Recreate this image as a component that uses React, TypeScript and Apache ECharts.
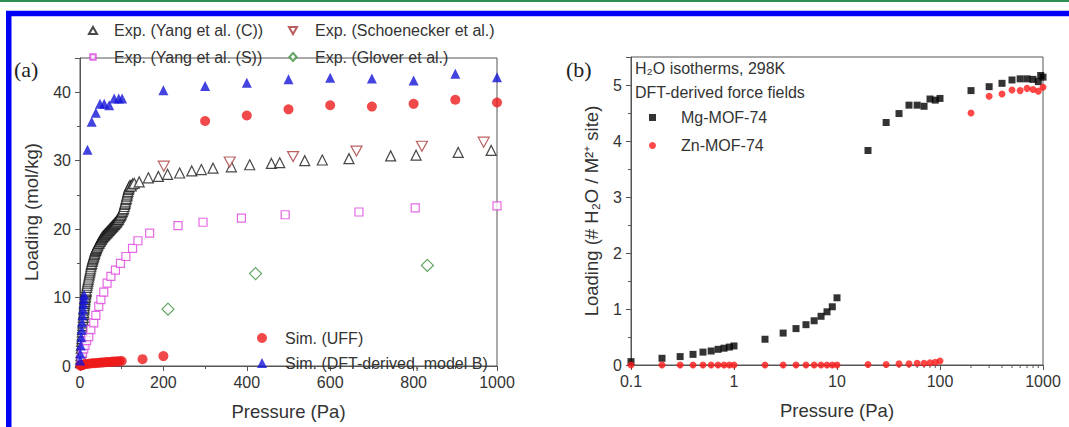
import React, { useEffect, useRef } from "react";
import * as echarts from "echarts";

// ---------- Panel (a) data: [pressure Pa, loading mol/kg] ----------
const yangC: number[][] = [
  [1, 0.5], [1.5, 1.0], [2, 1.5], [2.5, 2.0], [3, 2.6], [3.5, 3.1], [4, 3.6], [4.5, 4.0], [5, 4.5], [5.5, 5.0],
  [6, 5.4], [6.5, 5.9], [7, 6.3], [7.5, 6.7], [8, 7.1], [8.5, 7.5], [9, 7.8], [9.5, 8.2], [10, 8.5], [10.5, 8.8],
  [11, 9.1], [11.5, 9.4], [12, 9.7], [12.5, 10.0], [13, 10.2], [13.5, 10.5], [14, 10.7], [14.5, 10.9], [15, 11.1],
  [16, 11.5], [17, 11.8], [18, 12.1], [19, 12.4], [20, 12.7], [21, 13.0], [22, 13.3], [23, 13.6], [24, 13.9],
  [25, 14.2], [26, 14.5], [27, 14.8], [28, 15.0], [29, 15.3], [30, 15.5], [31, 15.7], [32, 15.9], [33, 16.1],
  [34, 16.3], [35, 16.5], [36, 16.7], [37, 16.9], [38, 17.0], [39, 17.2], [40, 17.3], [41.5, 17.5], [43, 17.7],
  [44.5, 17.9], [46, 18.0], [47.5, 18.2], [49, 18.3], [50.5, 18.5], [52, 18.6], [53.5, 18.8], [55, 18.9],
  [56.5, 19.0], [58, 19.1], [59.5, 19.2], [61, 19.3], [62.5, 19.4], [64, 19.5], [65.5, 19.6], [67, 19.7],
  [68.5, 19.8], [70, 19.9], [71.5, 20.0], [73, 20.1], [74.5, 20.2], [76, 20.3], [77.5, 20.4], [79, 20.5],
  [80.5, 20.6], [82, 20.7], [83.5, 20.8], [85, 20.9], [86.5, 21.0], [88, 21.1], [89.5, 21.3], [91, 21.4],
  [92.5, 21.5], [94, 21.7], [95.5, 21.9], [97, 22.0], [98.5, 22.2], [100, 22.4], [101.5, 22.6], [103, 22.8],
  [104.5, 23.0], [106, 23.3], [107, 23.6], [108, 23.8], [109, 24.0], [110, 24.3], [111, 24.5], [112, 24.8],
  [113, 25.0], [114, 25.3], [115, 25.5], [116, 25.8], [117, 26.0], [118, 26.2], [120, 26.4], [123, 26.3],
  [126, 26.6], [130, 26.7], [142, 26.9], [164, 27.5], [188, 27.7], [210, 28.0],
  [239, 28.2], [268, 28.5], [291, 28.7], [319, 28.9], [363, 29.1], [407, 29.4], [459, 29.6], [479, 29.7],
  [539, 30.0], [581, 30.1], [645, 30.3], [745, 30.7], [806, 30.8], [907, 31.2], [986, 31.5],
];
const yangS: number[][] = [
  [3, 1.0], [6, 1.9], [9, 2.5], [12, 3.0], [16, 3.7], [21, 4.3], [26, 5.3], [33, 6.3], [38, 7.4], [45, 8.7],
  [50, 9.7], [57, 10.8], [65, 12.1], [74, 13.1], [85, 14.0], [97, 15.0], [110, 16.0], [126, 17.2],
  [139, 18.3], [167, 19.4], [235, 20.5], [295, 21.0], [387, 21.6], [492, 22.1], [669, 22.5], [804, 23.1],
  [1000, 23.4],
];
const schoenecker: number[][] = [
  [201, 29.2], [359, 29.8], [511, 30.6], [663, 31.4], [820, 32.1], [968, 32.7],
];
const glover: number[][] = [
  [211, 8.3], [421, 13.5], [833, 14.7],
];
const simUFF: number[][] = [
  [1, 0.05], [3, 0.1], [5, 0.15], [8, 0.2], [10, 0.25], [15, 0.3], [20, 0.33], [25, 0.36], [30, 0.4],
  [35, 0.42], [40, 0.45], [45, 0.47], [50, 0.5], [55, 0.52], [60, 0.55], [65, 0.57], [70, 0.6], [75, 0.62],
  [80, 0.64], [85, 0.66], [90, 0.68], [95, 0.7], [100, 0.73], [150, 1.0], [200, 1.45],
  [300, 35.8], [400, 36.6], [500, 37.5], [600, 38.1], [700, 37.9], [800, 38.3], [900, 38.9], [1000, 38.5],
];
const simDFT: number[][] = [
  [0.5, 0.8], [1, 1.8], [2, 3.0], [3, 4.2], [4, 5.3], [5, 6.4], [6, 7.4], [7, 8.3], [8, 9.1], [9, 9.8],
  [10, 10.4], [18, 31.6], [28, 35.7], [38, 37.0], [48, 38.3], [58, 38.3], [70, 38.1], [82, 39.1],
  [93, 39.1], [101, 39.1], [200, 40.3], [300, 40.9], [400, 41.4], [500, 41.9], [600, 42.1], [700, 42.0],
  [800, 41.7], [900, 42.7], [1000, 42.2],
];

// ---------- Panel (b) data: [pressure Pa, loading per M2+ site] ----------
const mgMOF: number[][] = [
  [0.1, 0.06], [0.2, 0.12], [0.3, 0.15], [0.4, 0.19], [0.5, 0.23], [0.6, 0.25], [0.7, 0.28], [0.8, 0.3],
  [0.9, 0.32], [1, 0.34], [2, 0.46], [3, 0.57], [4, 0.65], [5, 0.72], [6, 0.79], [7, 0.87], [8, 0.95],
  [9, 1.04], [10, 1.2], [20, 3.83], [30, 4.33], [40, 4.49], [50, 4.64], [60, 4.64], [70, 4.62], [80, 4.75],
  [90, 4.73], [100, 4.76], [200, 4.9], [300, 4.97], [400, 5.03], [500, 5.09], [600, 5.11], [700, 5.11],
  [800, 5.1], [900, 5.06], [950, 5.17], [1000, 5.14],
];
const znMOF: number[][] = [
  [0.1, 0], [0.2, 0], [0.3, 0], [0.4, 0], [0.5, 0], [0.6, 0], [0.7, 0], [0.8, 0], [0.9, 0], [1, 0],
  [2, 0], [3, 0], [4, 0], [5, 0], [6, 0], [7, 0], [8, 0], [9, 0], [10, 0], [20, 0.01], [30, 0.01],
  [40, 0.02], [50, 0.02], [60, 0.03], [70, 0.03], [80, 0.04], [90, 0.05], [100, 0.07], [200, 4.5],
  [300, 4.8], [400, 4.84], [500, 4.91], [600, 4.9], [700, 4.94], [800, 4.92], [900, 4.89], [1000, 4.96],
];
const logMinorTicks: number[] = [
  0.2, 0.3, 0.4, 0.5, 0.6, 0.7, 0.8, 0.9, 2, 3, 4, 5, 6, 7, 8, 9,
  20, 30, 40, 50, 60, 70, 80, 90, 200, 300, 400, 500, 600, 700, 800, 900,
];

const N_YANGC = "Exp. (Yang et al. (C))";
const N_YANGS = "Exp. (Yang et al. (S))";
const N_SCHO = "Exp. (Schoenecker et al.)";
const N_GLOV = "Exp. (Glover et al.)";
const N_UFF = "Sim. (UFF)";
const N_DFT = "Sim. (DFT-derived, model B)";
const N_MG = "Mg-MOF-74";
const N_ZN = "Zn-MOF-74";

const FONT = "'Liberation Sans', Arial, Helvetica, sans-serif";
const AXIS_COLOR = "#555";
const TEXT_COLOR = "#333";

// legend icons with an inner margin so that they come out smaller than the item box
const ICON_SMALL_RECT = "path://M0,0 M10,10 M2,2 L8,2 L8,8 L2,8 Z";
const ICON_SMALL_TRI = "path://M0,0 M10,10 M5,1 L9.5,9 L0.5,9 Z";
const ICON_SMALL_DOWNTRI = "path://M0,0 M10,10 M0.5,1 L9.5,1 L5,9 Z";
const ICON_SMALL_DIAMOND = "path://M0,0 M10,10 M5,0.5 L9,5 L5,9.5 L1,5 Z";

export default function App() {
  const ref = useRef<HTMLDivElement>(null);
  useEffect(() => {
    if (!ref.current) return;
    const chart = echarts.init(ref.current, undefined, { renderer: "svg" });

    const axisCommon = {
      axisLine: { show: true, lineStyle: { color: AXIS_COLOR, width: 1 } },
      axisTick: { show: true, inside: false, length: 5, lineStyle: { color: AXIS_COLOR } },
      minorTick: { show: true, splitNumber: 2, length: 3, lineStyle: { color: AXIS_COLOR } },
      splitLine: { show: false },
      minorSplitLine: { show: false },
      nameLocation: "middle" as const,
      nameTextStyle: { fontFamily: FONT, fontSize: 18.5, color: TEXT_COLOR },
    };
    const labelCommon = { fontFamily: FONT, fontSize: 16, color: TEXT_COLOR };

    const legendCommon = (size: number, gap: number, padL: number) => ({
      orient: "vertical" as const,
      itemWidth: size,
      itemHeight: size,
      itemGap: gap,
      padding: 0,
      textStyle: { fontFamily: FONT, fontSize: 16, color: TEXT_COLOR, padding: [0, 0, 0, padL] },
      selectedMode: false,
    });

    const downTri = "path://M0,0 L10,0 L5,9 Z";

    chart.setOption({
      animation: false,
      backgroundColor: "#ffffff",
      grid: [
        { left: 80, top: 58, width: 417, height: 308, show: true, borderColor: AXIS_COLOR, borderWidth: 1, backgroundColor: "transparent", containLabel: false, outerBoundsMode: "none" },
        { left: 631, top: 57, width: 412, height: 308, show: true, borderColor: AXIS_COLOR, borderWidth: 1, backgroundColor: "transparent", containLabel: false, outerBoundsMode: "none" },
      ],
      xAxis: [
        {
          ...axisCommon, type: "value", gridIndex: 0, min: 0, max: 1000, interval: 200,
          name: "Pressure (Pa)", nameGap: 36,
          axisLabel: { ...labelCommon, margin: 8, formatter: (v: number) => String(v) },
        },
        {
          ...axisCommon, type: "log", logBase: 10, gridIndex: 1, min: 0.1, max: 1000,
          minorTick: { show: false },
          name: "Pressure (Pa)", nameGap: 36,
          axisLabel: { ...labelCommon, margin: 8, formatter: (v: number) => String(+v.toPrecision(3)) },
        },
      ],
      yAxis: [
        {
          ...axisCommon, type: "value", gridIndex: 0, min: 0, max: 45, interval: 10,
          name: "Loading (mol/kg)", nameGap: 39,
          axisLabel: { ...labelCommon, margin: 9, showMaxLabel: false },
        },
        {
          ...axisCommon, type: "value", gridIndex: 1, min: 0, max: 5.5, interval: 1,
          name: "Loading (# H\u2082O / M\u00b2\u207a site)", nameGap: 30,
          axisLabel: { ...labelCommon, margin: 9, showMaxLabel: false },
        },
      ],
      legend: [
        {
          ...legendCommon(9, 10.5, 11.5), left: 87.5, top: 22.5,
          data: [{ name: N_YANGC, icon: ICON_SMALL_TRI }, { name: N_YANGS, icon: ICON_SMALL_RECT }],
        },
        {
          ...legendCommon(9, 10.5, 12.5), left: 287.5, top: 22.5,
          data: [{ name: N_SCHO, icon: ICON_SMALL_DOWNTRI }, { name: N_GLOV, icon: ICON_SMALL_DIAMOND }],
        },
        { ...legendCommon(10, 9, 13), left: 257, top: 330, data: [N_UFF, N_DFT] },
        { ...legendCommon(7, 12, 20), left: 649, top: 109.5, data: [N_MG, N_ZN] },
      ],
      graphic: [
        { type: "rect", shape: { x: 0, y: 0, width: 1069, height: 2 }, style: { fill: "#2f8f55" }, silent: true },
        { type: "rect", shape: { x: 8.75, y: 13.5, width: 1100, height: 500 }, style: { fill: "none", stroke: "#0000f5", lineWidth: 5.5 }, silent: true },
        { type: "text", x: 14, y: 69, style: { text: "(a)", font: "22px 'Liberation Serif', 'Times New Roman', serif", fill: "#222", verticalAlign: "middle" } },
        { type: "text", x: 566, y: 69, style: { text: "(b)", font: "22px 'Liberation Serif', 'Times New Roman', serif", fill: "#222", verticalAlign: "middle" } },
        { type: "text", x: 635, y: 68, style: { text: "H\u2082O isotherms, 298K", font: `16px ${FONT}`, fill: TEXT_COLOR, verticalAlign: "middle" } },
        { type: "text", x: 635, y: 92, style: { text: "DFT-derived force fields", font: `16px ${FONT}`, fill: TEXT_COLOR, verticalAlign: "middle" } },
      ],
      series: [
        {
          name: N_YANGC, type: "scatter", xAxisIndex: 0, yAxisIndex: 0, data: yangC,
          symbol: "triangle", symbolSize: 10,
          itemStyle: { color: "#ffffff", borderColor: "#1a1a1a", borderWidth: 1.2 },
        },
        {
          name: N_YANGS, type: "scatter", xAxisIndex: 0, yAxisIndex: 0, data: yangS,
          symbol: "rect", symbolSize: 8,
          itemStyle: { color: "#ffffff", borderColor: "#dd44dd", borderWidth: 1.2 },
        },
        {
          name: N_SCHO, type: "scatter", xAxisIndex: 0, yAxisIndex: 0, data: schoenecker,
          symbol: downTri, symbolSize: [11, 10],
          itemStyle: { color: "#ffffff", borderColor: "#a8383a", borderWidth: 1.2 },
        },
        {
          name: N_GLOV, type: "scatter", xAxisIndex: 0, yAxisIndex: 0, data: glover,
          symbol: "diamond", symbolSize: 12,
          itemStyle: { color: "#ffffff", borderColor: "#3a8f3a", borderWidth: 1.2 },
        },
        {
          name: N_UFF, type: "scatter", xAxisIndex: 0, yAxisIndex: 0, data: simUFF,
          symbol: "circle", symbolSize: 10,
          itemStyle: { color: "#ee1c1c" },
        },
        {
          name: N_DFT, type: "scatter", xAxisIndex: 0, yAxisIndex: 0, data: simDFT,
          symbol: "triangle", symbolSize: 10,
          itemStyle: { color: "#1414d8" },
        },
        {
          name: N_MG, type: "scatter", xAxisIndex: 1, yAxisIndex: 1, data: mgMOF,
          symbol: "rect", symbolSize: 7,
          itemStyle: { color: "#000000" },
        },
        {
          name: N_ZN, type: "scatter", xAxisIndex: 1, yAxisIndex: 1, data: znMOF,
          symbol: "circle", symbolSize: 7,
          itemStyle: { color: "#ff1a1a" },
        },
        {
          name: "logMinorTicks", type: "custom", xAxisIndex: 1, yAxisIndex: 1,
          data: logMinorTicks.map((v) => [v, 0]),
          clip: false, silent: true,
          renderItem: (_params: any, api: any) => {
            const p = api.coord([api.value(0), 0]);
            return {
              type: "line",
              shape: { x1: p[0], y1: p[1], x2: p[0], y2: p[1] + 3 },
              style: { stroke: AXIS_COLOR, lineWidth: 1 },
            };
          },
        },
      ],
    });

    return () => chart.dispose();
  }, []);

  return (
    <div
      ref={ref}
      style={{ position: "absolute", left: 0, top: 0, width: 1069, height: 427, background: "#fff" }}
    />
  );
}
